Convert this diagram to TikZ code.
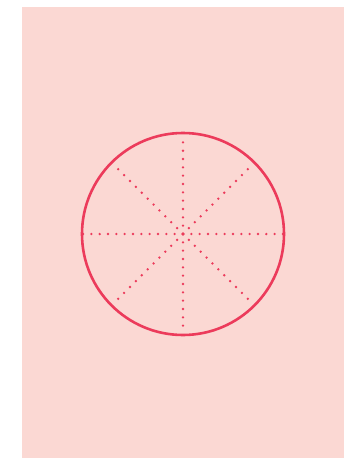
\documentclass[tikz,border=0pt]{standalone}
\usetikzlibrary{calc}
\definecolor{bgpink}{HTML}{FBD8D3}
\definecolor{strokered}{HTML}{EC3B5B}
\tikzset{
  ring/.style={draw=strokered, line width=2.6pt},
  dotray/.style={draw=strokered, line width=2.6pt, line cap=round, dash pattern=on 0pt off 8.33pt}
}
\begin{document}
\begin{tikzpicture}[x=1pt,y=-1pt]
\useasboundingbox (0,0) rectangle (350,458);
\fill[bgpink] (22,7) rectangle (344,458);
\coordinate (c) at (183,234);
\node[circle, ring, minimum size=202pt, inner sep=0pt] (ringnode) at (c) {};
\foreach \a/\l in {0/101,180/101,90/95,270/95,45/95,135/95,225/95,315/95}{
  \coordinate (e\a) at ($(c)+(\a:\l)$);
  \draw[dotray] (c) -- (e\a);
}
\end{tikzpicture}
\end{document}
